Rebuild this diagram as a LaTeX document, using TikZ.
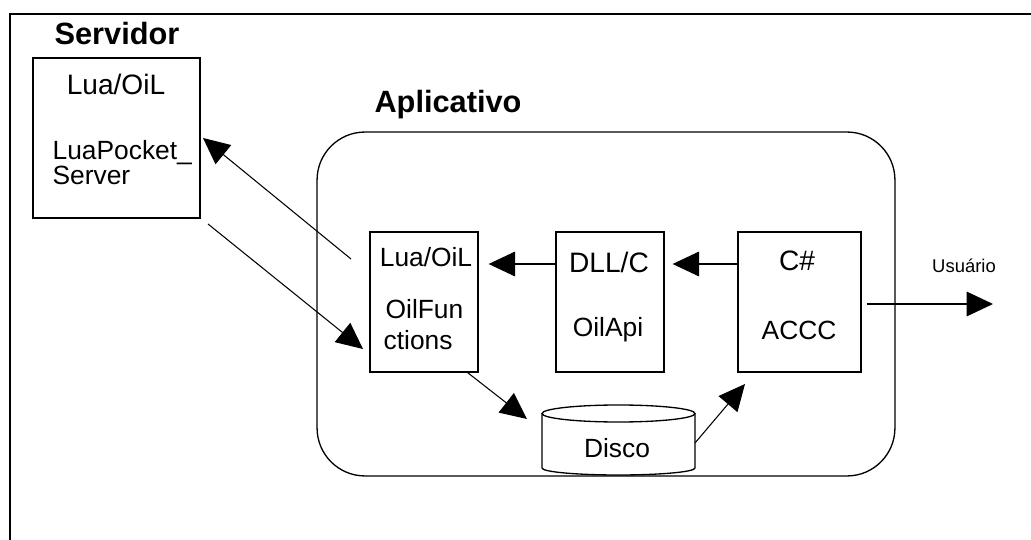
\documentclass[tikz,border=0pt]{standalone}
\usepackage{fontspec}
\setmainfont{Liberation Sans}
\usetikzlibrary{arrows.meta}

\begin{document}
\begin{tikzpicture}[x=0.02cm,y=-0.02cm,>={Triangle[length=15pt,width=14pt]},line width=0.75pt,
  box/.style={draw,minimum height=2.8cm,inner sep=0pt},
  txt/.style={font=\fontsize{15}{18}\selectfont,anchor=base,inner sep=0pt},
  ttl/.style={font=\fontsize{17.5}{21}\selectfont\bfseries,anchor=base,inner sep=0pt}]
\useasboundingbox (0,0) rectangle (1031,540);
\draw[line width=1.1pt] (10,540) -- (10,14) -- (1031,14);
% servidor
\node[ttl] (srvttl) at (117,45) {Servidor};
\node[box,minimum width=3.34cm,minimum height=3.2cm] (srv) at (116.5,138) {};
\node[txt,font=\fontsize{16}{19}\selectfont] (srvlang) at (116,95) {Lua/OiL};
\node[txt,anchor=base west] (srvname) at (52,160) {LuaPocket\_};
\node[txt,anchor=base west] (srvname2) at (52,185) {Server};
% aplicativo
\node[ttl] (appttl) at (448,113) {Aplicativo};
\node[draw,rounded corners=0.96cm,minimum width=11.56cm,minimum height=6.88cm] (app) at (606,304) {};
\node[box,minimum width=2.16cm] (oilf) at (424,302) {};
\node[txt] (oilflang) at (426,267) {Lua/OiL};
\node[txt,anchor=base west] (oilfname) at (385,319) {OilFun};
\node[txt,anchor=base west] (oilfname2) at (383,350) {ctions};
\node[box,minimum width=2.16cm] (dll) at (610,302) {};
\node[txt,font=\fontsize{16}{19}\selectfont] (dlllang) at (609,273) {DLL/C};
\node[txt] (dllname) at (608,337) {OilApi};
\node[box,minimum width=2.46cm] (acc) at (799.5,302) {};
\node[txt,font=\fontsize{16}{19}\selectfont] (acclang) at (797,271) {C\#};
\node[txt] (accname) at (799,340) {ACCC};
% disco
\draw (542,413.5) -- (542,468) arc[start angle=180,end angle=360,x radius=1.53cm,y radius=0.14cm] -- (695,413.5);
\draw (618.5,413.5) ellipse [x radius=1.53cm,y radius=0.17cm];
\node[txt] (disco) at (617,458) {Disco};
\node[txt,font=\fontsize{10.5}{13}\selectfont] (usr) at (964,273) {Usuário};
% ligacoes
\coordinate (row) at (0,264);
\coordinate (oilfout) at (351,259);
\coordinate (srvin) at (203,138);
\coordinate (srvout) at (208,224);
\coordinate (oilfin) at (363,349);
\coordinate (discoin) at (527,419);
\coordinate (discoout) at (695,443);
\coordinate (accin) at (745,384);
\coordinate (usrin) at (993,304);
\draw[->] (dll.west |- row) -- ([xshift=0.2cm]oilf.east |- row);
\draw[->] (acc.west |- row) -- ([xshift=0.16cm]dll.east |- row);
\draw[->] ([xshift=0.1cm]acc.east |- usrin) -- (usrin);
\draw[->,line width=0.6pt] (oilfout) -- (srvin);
\draw[->,line width=0.6pt] (srvout) -- (oilfin);
\draw[->,line width=0.6pt] ([xshift=-0.22cm]oilf.south east) -- (discoin);
\draw[->,line width=0.6pt] (discoout) -- (accin);
\end{tikzpicture}
\end{document}
